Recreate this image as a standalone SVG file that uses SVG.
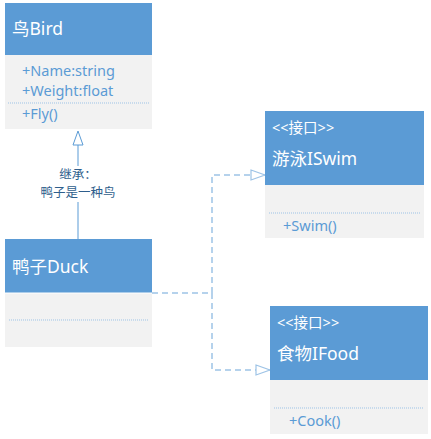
<svg xmlns="http://www.w3.org/2000/svg" width="431" height="439" viewBox="0 0 431 439">
<defs>
<style>
.hd{fill:#5B9BD5}
.bd{fill:#F2F2F2}
.title{font-family:"Noto Sans","Noto Sans CJK SC",sans-serif;font-size:17.5px;fill:#FFFFFF}
.st{font-family:"Noto Sans","Noto Sans CJK SC",sans-serif;font-size:14.5px;fill:#FFFFFF}
.mb{font-family:"Noto Sans","Noto Sans CJK SC",sans-serif;font-size:14.5px;fill:#5B9BD5}
.sep{stroke:#9DC3E6;stroke-width:1;stroke-dasharray:1 1}
.lbl{font-family:"Noto Sans","Noto Sans CJK SC",sans-serif;font-size:12.5px;fill:#2E5E8C}
.dash{fill:none;stroke:#9DC3E6;stroke-width:1.5;stroke-dasharray:6 4}
</style>
<marker id="tri" markerWidth="16" markerHeight="12" refX="15" refY="6" orient="auto" markerUnits="userSpaceOnUse">
<path d="M1,1 L15,6 L1,11 Z" fill="#FFFFFF" stroke="#9DC3E6" stroke-width="1.2"/>
</marker>
</defs>
<rect width="431" height="439" fill="#FFFFFF"/>
<g id="connectors">
<line x1="78" y1="145" x2="78" y2="166" stroke="#5B9BD5" stroke-width="1"/>
<line x1="78" y1="202" x2="78" y2="239" stroke="#5B9BD5" stroke-width="1"/>
<path d="M78,131 L83,145 L73,145 Z" fill="#FFFFFF" stroke="#5B9BD5" stroke-width="1"/>
<text class="lbl" x="78" y="179" text-anchor="middle">继承：</text>
<text class="lbl" x="78" y="197" text-anchor="middle">鸭子是一种鸟</text>
<path class="dash" d="M152,293 H212 V175 H265" marker-end="url(#tri)"/>
<path class="dash" d="M212,293 V370 H270" marker-end="url(#tri)"/>
</g>
<g id="bird">
<rect class="hd" x="5" y="3" width="147" height="52"/>
<rect class="bd" x="5" y="55" width="147" height="74"/>
<text class="title" x="12" y="35">鸟Bird</text>
<text class="mb" x="22" y="76">+Name:string</text>
<text class="mb" x="22" y="96">+Weight:float</text>
<line class="sep" x1="8" y1="103" x2="149" y2="103"/>
<text class="mb" x="22" y="119">+Fly()</text>
</g>
<g id="duck">
<rect class="hd" x="5" y="239" width="147" height="54"/>
<rect class="bd" x="5" y="293" width="147" height="54"/>
<line x1="5" y1="293" x2="152" y2="293" stroke="#FFFFFF" stroke-width="1"/>
<text class="title" x="12" y="273">鸭子Duck</text>
<line class="sep" x1="9" y1="320" x2="148" y2="320"/>
</g>
<g id="iswim">
<rect class="hd" x="265" y="111" width="159" height="74"/>
<rect class="bd" x="265" y="185" width="159" height="53"/>
<text class="st" x="272" y="133">&lt;&lt;接口&gt;&gt;</text>
<text class="title" x="272" y="165">游泳ISwim</text>
<line class="sep" x1="269" y1="213" x2="420" y2="213"/>
<text class="mb" x="283" y="231">+Swim()</text>
</g>
<g id="ifood">
<rect class="hd" x="270" y="306" width="158" height="74"/>
<rect class="bd" x="270" y="380" width="158" height="54"/>
<text class="st" x="277" y="328">&lt;&lt;接口&gt;&gt;</text>
<text class="title" x="277" y="360">食物IFood</text>
<line class="sep" x1="274" y1="408" x2="424" y2="408"/>
<text class="mb" x="289" y="426">+Cook()</text>
</g>
</svg>
